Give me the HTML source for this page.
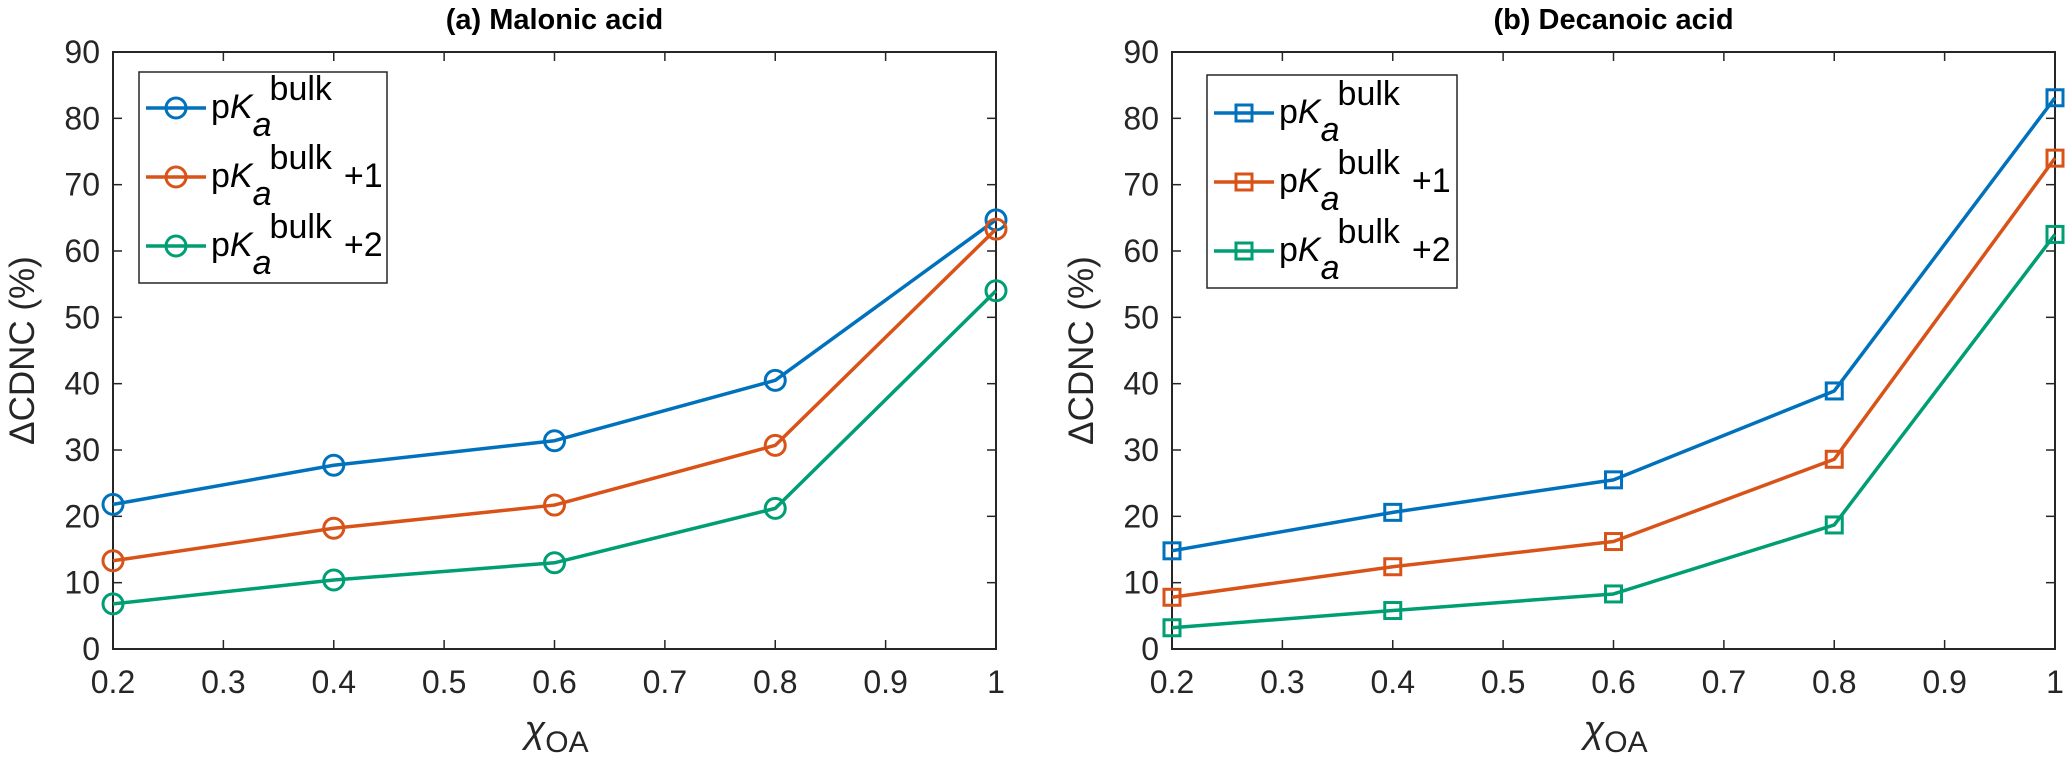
<!DOCTYPE html>
<html><head><meta charset="utf-8"><style>
html,body{margin:0;padding:0;background:#fff}
svg text{font-family:"Liberation Sans",sans-serif;fill:#262626}
</style></head><body>
<svg id="fig" width="2067" height="763" viewBox="0 0 2067 763" xmlns="http://www.w3.org/2000/svg"></svg>
<script>
const xValues=[0.2,0.4,0.6,0.8,1.0];
const xTicks=[0.2,0.3,0.4,0.5,0.6,0.7,0.8,0.9,1];
const xTickLabels=["0.2","0.3","0.4","0.5","0.6","0.7","0.8","0.9","1"];
const yTicks=[0,10,20,30,40,50,60,70,80,90];
const seriesNames=["pKa bulk","pKa bulk +1","pKa bulk +2"];
const malonicBulk=[21.8,27.7,31.4,40.5,64.7];
const malonicPlus1=[13.3,18.2,21.7,30.7,63.3];
const malonicPlus2=[6.8,10.4,13.0,21.2,54.0];
const decanoicBulk=[14.8,20.6,25.5,38.9,83.1];
const decanoicPlus1=[7.8,12.4,16.2,28.6,74.0];
const decanoicPlus2=[3.2,5.8,8.3,18.7,62.5];
const colors=["#0072BD","#D95319","#009E73"];
const NS="http://www.w3.org/2000/svg";
const svg=document.getElementById('fig');
function el(t,a,p){const e=document.createElementNS(NS,t);for(const k in a)e.setAttribute(k,a[k]);(p||svg).appendChild(e);return e;}
function panel(name,left,title,series,marker,legend){
  const top=52,bottom=649,right=left+883;
  const g=el('g',{});
  
  
  const xs=v=>left+(v-0.2)/0.8*(right-left);
  const ys=v=>bottom-v/90*(bottom-top);
  el('rect',{x:left,y:top,width:right-left,height:bottom-top,fill:'#fff',stroke:'#262626','stroke-width':2},g);
  xTicks.forEach((t,i)=>{const x=xs(t);
    el('line',{x1:x,x2:x,y1:bottom,y2:bottom-9,stroke:'#262626','stroke-width':1.5},g);
    el('line',{x1:x,x2:x,y1:top,y2:top+9,stroke:'#262626','stroke-width':1.5},g);
    const tx=el('text',{x:x,y:693,'font-size':32,'text-anchor':'middle'},g);tx.textContent=xTickLabels[i];
    });
  yTicks.forEach(t=>{const y=ys(t);
    el('line',{x1:left,x2:left+9,y1:y,y2:y,stroke:'#262626','stroke-width':1.5},g);
    el('line',{x1:right,x2:right-9,y1:y,y2:y,stroke:'#262626','stroke-width':1.5},g);
    const tx=el('text',{x:left-13,y:y+11,'font-size':32,'text-anchor':'end'},g);tx.textContent=t;
    });
  const tt=el('text',{x:(left+right)/2,y:29,'font-size':29,'font-weight':'bold','text-anchor':'middle',style:'fill:#000'},g);tt.textContent=title;
  
  const xl=el('text',{x:(left+right)/2-30,y:742,'font-size':38,'font-family':'Liberation Serif',style:'font-style:italic'},g);
  xl.innerHTML='χ<tspan font-size="30" font-style="normal" font-family="Liberation Sans" dy="10">OA</tspan>';
  
  const yl=el('text',{x:0,y:0,'font-size':35,'text-anchor':'middle',transform:`translate(${left-79},${(top+bottom)/2}) rotate(-90)`},g);
  yl.textContent='ΔCDNC (%)';
  
  function mark(x,y,c,parent){
    if(marker==='o') return el('circle',{cx:x,cy:y,r:10,fill:'none',stroke:c,'stroke-width':3},parent);
    return el('rect',{x:x-8,y:y-8,width:16,height:16,fill:'none',stroke:c,'stroke-width':3},parent);
  }
  series.forEach((s,k)=>{
    const sg=el('g',{},g);
    
    el('polyline',{points:s.map((v,i)=>xs(xValues[i])+','+ys(v)).join(' '),fill:'none',stroke:colors[k],'stroke-width':3.5,'stroke-linejoin':'round'},sg);
    s.forEach((v,i)=>{const m=mark(xs(xValues[i]),ys(v),colors[k],sg);
      });
  });
  const lg=el('g',{},g);
  
  el('rect',{x:legend.x,y:legend.y,width:legend.w,height:legend.h,fill:'#fff',stroke:'#262626','stroke-width':1.5},lg);
  const extras=['','+1','+2'];
  for(let k=0;k<3;k++){
    const y=legend.r0+k*69;
    const e=el('g',{},lg);
    
    el('line',{x1:legend.x+7,x2:legend.x+67,y1:y,y2:y,stroke:colors[k],'stroke-width':3.5},e);
    mark(legend.x+37,y,colors[k],e);
    const t=el('text',{x:legend.x+72,y:y+10,'font-size':34,style:'fill:#000'},e);
    t.innerHTML='p<tspan font-style="italic">K</tspan><tspan font-style="italic" dy="18">a</tspan><tspan dx="-2" dy="-36">bulk</tspan><tspan dx="12" dy="18">'+extras[k]+'</tspan>';
  }
}
panel('panel-malonic',113,'(a) Malonic acid',[malonicBulk,malonicPlus1,malonicPlus2],'o',{x:139,y:72,w:248,h:211,r0:108});
panel('panel-decanoic',1172,'(b) Decanoic acid',[decanoicBulk,decanoicPlus1,decanoicPlus2],'s',{x:1207,y:75,w:250,h:213,r0:113});
</script>
</body></html>
